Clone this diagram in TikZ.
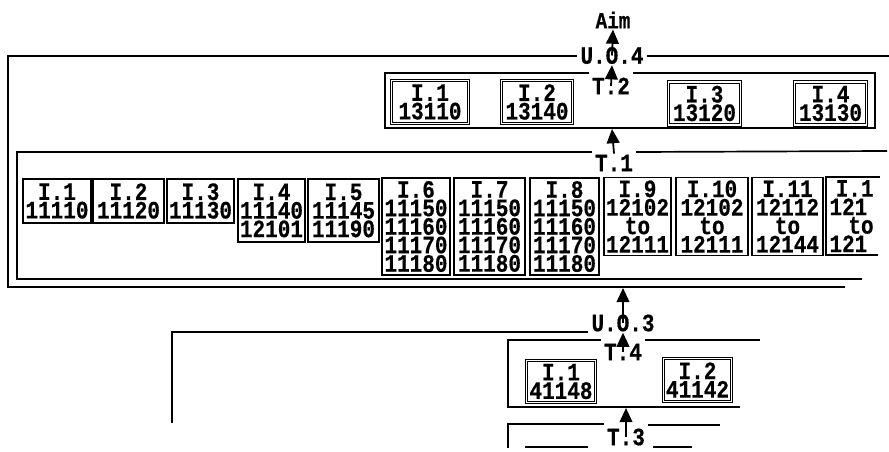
\documentclass[tikz,border=0pt]{standalone}
\usepackage{fontspec}
\newfontfamily\dmfont[FakeStretch=0.84,FakeBold=0.5]{Liberation Mono}
\usetikzlibrary{arrows.meta}
\newcommand\txtfont{\fontsize{25}{18.5}\dmfont\bfseries}
\newcommand\aimfont{\fontsize{23}{18}\dmfont\bfseries}
\begin{document}
\begin{tikzpicture}[x=1pt,y=-1pt,
  frame/.style={line width=1.7pt},
  itm/.style={draw, line width=1.5pt, inner sep=0pt, align=center, font=\txtfont},
  dbl/.style={itm, double=white, double distance=1.1pt, line width=1.1pt},
  lab/.style={inner xsep=3pt, inner ysep=1pt, font=\txtfont},
  arr/.style={line width=1.8pt, -{Triangle[length=5mm,width=4.5mm]}}]
\useasboundingbox (0,0) rectangle (889,452);

% labels
\node[lab, font=\aimfont] (aim) at (613,20) {Aim};
\node[lab] (uo4) at (612,55.5) {U.O.4};
\node[lab] (t2lab) at (611,86) {T.2};
\node[lab] (t1lab) at (614,163) {T.1};
\node[lab] (uo3) at (623,323) {U.O.3};
\node[lab] (t4lab) at (623,352) {T.4};
\node[lab] (t3lab) at (626,437) {T.3};

% T.2 items
\node[dbl, minimum width=77pt, minimum height=43pt] (a1) at (430,102) {I.1\\13110};
\node[dbl, minimum width=71pt, minimum height=43pt] (a2) at (537,102) {I.2\\13140};
\node[dbl, minimum width=72pt, minimum height=43pt] (a3) at (704.5,103.5) {I.3\\13120};
\node[dbl, minimum width=72pt, minimum height=43pt] (a4) at (830.5,103.5) {I.4\\13130};

% T.1 items
\node[itm, minimum width=68pt, minimum height=44pt] (b1) at (57,201) {I.1\\11110};
\node[itm, minimum width=71pt, minimum height=44pt] (b2) at (128.5,201) {I.2\\11120};
\node[itm, minimum width=67pt, minimum height=44pt] (b3) at (200.5,201) {I.3\\11130};
\node[itm, minimum width=67pt, minimum height=63pt] (b4) at (271.5,210.5) {I.4\\11140\\12101};
\node[itm, minimum width=71pt, minimum height=63pt] (b5) at (343.5,210.5) {I.5\\11145\\11190};
\node[itm, minimum width=68pt, minimum height=97pt] (b6) at (416,226.5) {I.6\\11150\\11160\\11170\\11180};
\node[itm, minimum width=71pt, minimum height=97pt] (b7) at (489.5,226.5) {I.7\\11150\\11160\\11170\\11180};
\node[itm, minimum width=69pt, minimum height=97pt] (b8) at (564.5,226.5) {I.8\\11150\\11160\\11170\\11180};
\node[itm, minimum width=67pt, minimum height=78pt] (b9) at (637.5,216.5) {I.9\\12102\\to\\12111};
\node[itm, minimum width=72pt, minimum height=78pt] (b10) at (712,216.5) {I.10\\12102\\to\\12111};
\node[itm, minimum width=71pt, minimum height=78pt] (b11) at (787.5,216.5) {I.11\\12112\\to\\12144};
\node[itm, draw=none, minimum height=78pt] (b12) at (861,216) {I.1\phantom{2}\\121\phantom{12}\\to\\121\phantom{12}};
\draw[line width=1.5pt] (880,177) -- (826,177) -- (826,255) -- (878,255);

% T.4 items
\node[dbl, minimum width=69pt, minimum height=42pt] (c1) at (561,381.5) {I.1\\41148};
\node[dbl, minimum width=68pt, minimum height=43pt] (c2) at (697.5,380) {I.2\\41142};

% frames
\draw[frame] (uo4.west |- 0,56) -- (8,56) -- (8,287) -- (845,287);
\draw[frame] (uo4.east |- 0,56) -- (889,56);
\draw[frame] (t2lab.west |- 0,73) -- (385,73) -- (385,128) -- (875,128) -- (875,73) -- (t2lab.east |- 0,73);
\draw[frame] (t1lab.west |- 0,152) -- (17,152) -- (17,279) -- (862,279);
\draw[frame] (t1lab.east |- 0,152) -- (887,151);
\draw[frame] (uo3.west |- 0,332) -- (172,332) -- (172,423);
\draw[frame] (t4lab.west |- 0,340) -- (508,340) -- (508,407) -- (740,407);
\draw[frame] (t4lab.east |- 0,340) -- (760,340);
\draw[frame] (t3lab.west |- 0,424) -- (508,424) -- (508,448);
\draw[frame] (t3lab.east |- 0,425) -- (720,425);
\draw[frame] (525,447) -- (588,447);
\draw[frame] (653,447) -- (692,447);

% arrow ends
\coordinate (t2bot) at (612,129);
\coordinate (uo4bot) at (623,288);
\coordinate (t4bot) at (626,408);

% arrows
\draw[arr] (t2lab.center) -- (uo4.south);
\draw[arr] (uo4.center) -- (aim.south);
\draw[arr] (t1lab.north) -- (t2bot);
\draw[arr] (t4lab.center) -- (uo3.south);
\draw[arr] (uo3.center) -- (uo4bot);
\draw[arr] (t3lab.center) -- (t4bot);
\end{tikzpicture}
\end{document}
